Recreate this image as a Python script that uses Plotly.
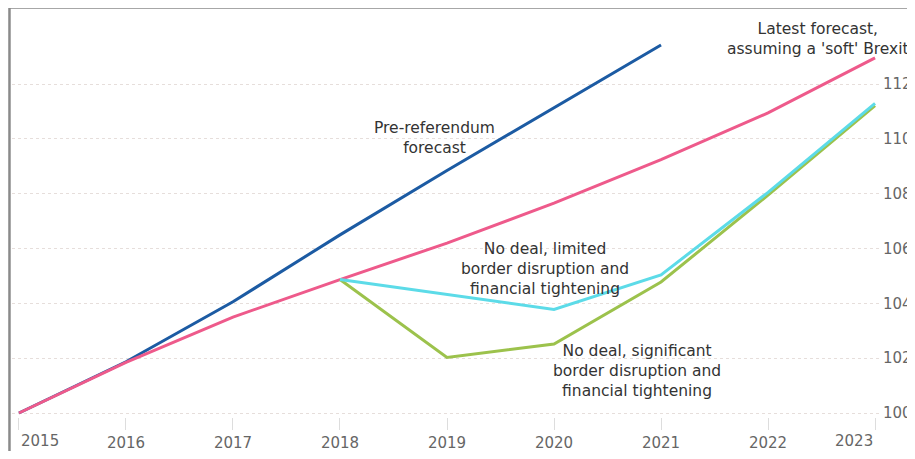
import plotly.graph_objects as go

years = [2015, 2016, 2017, 2018, 2019, 2020, 2021, 2022, 2023]
year_labels = ["2015", "2016", "2017", "2018", "2019", "2020", "2021", "2022", "2023"]

pre_ref_years = [2015, 2016, 2017, 2018, 2019, 2020, 2021]
pre_ref = [100.0, 101.87, 104.06, 106.5, 108.85, 111.15, 113.43]

latest = [100.0, 101.85, 103.5, 104.87, 106.2, 107.66, 109.25, 110.95, 112.96]

nd_years = [2018, 2019, 2020, 2021, 2022, 2023]
nd_limited = [104.87, 104.33, 103.78, 105.04, 108.05, 111.3]
nd_significant = [104.87, 102.03, 102.52, 104.78, 107.95, 111.22]

y_ticks = [100, 102, 104, 106, 108, 110, 112]

labels = {
    "pre": "Pre-referendum<br>forecast",
    "latest": "Latest forecast,<br>assuming a 'soft' Brexit",
    "limited": "No deal, limited<br>border disruption and<br>financial tightening",
    "significant": "No deal, significant<br>border disruption and<br>financial tightening",
}

fig = go.Figure()
fig.add_trace(go.Scatter(x=pre_ref_years, y=pre_ref, mode="lines",
                         line=dict(color="#1c5ba3", width=3), cliponaxis=False))
fig.add_trace(go.Scatter(x=years, y=latest, mode="lines",
                         line=dict(color="#ee5a8b", width=3), cliponaxis=False))
fig.add_trace(go.Scatter(x=nd_years, y=nd_significant, mode="lines",
                         line=dict(color="#9cc24c", width=3), cliponaxis=False))
fig.add_trace(go.Scatter(x=nd_years, y=nd_limited, mode="lines",
                         line=dict(color="#5cdbe8", width=3), cliponaxis=False))

txt_font = dict(family="DejaVu Sans", size=15.5, color="#333333")
fig.add_annotation(x=2018.88, y=110.04, text=labels["pre"], showarrow=False, font=txt_font, align="center")
fig.add_annotation(x=2022.47, y=113.65, text=labels["latest"], showarrow=False, font=txt_font, align="center")
fig.add_annotation(x=2019.92, y=105.24, text=labels["limited"], showarrow=False, font=txt_font, align="center")
fig.add_annotation(x=2020.78, y=101.53, text=labels["significant"], showarrow=False, font=txt_font, align="center")

tick_font = dict(family="DejaVu Sans", size=15, color="#666666")
# edge year labels kept inside the frame (left / right aligned)
fig.add_annotation(x=years[0], xref="x", y=0, yref="paper", yanchor="middle", yshift=-24,
                   xanchor="left", text=year_labels[0], showarrow=False, font=tick_font)
fig.add_annotation(x=years[-1], xref="x", y=0, yref="paper", yanchor="middle", yshift=-24,
                   xanchor="right", text=year_labels[-1], showarrow=False, font=tick_font)

# frame lines (top and left)
fig.add_shape(type="line", xref="paper", yref="paper", x0=-0.0029, x1=1.2, y0=1.0012, y1=1.0012,
              line=dict(color="#8a8a8a", width=2.5))
fig.add_shape(type="line", xref="paper", yref="paper", x0=-0.0029, x1=-0.0029, y0=1.0012, y1=-0.2,
              line=dict(color="#8a8a8a", width=2.5))

mid_text = [""] + year_labels[1:-1] + [""]

fig.update_layout(
    width=907, height=443,
    margin=dict(l=4, r=33, t=0, b=34),
    plot_bgcolor="white", paper_bgcolor="white",
    showlegend=False,
    xaxis=dict(range=[2014.935, 2023.065], tickvals=years, ticktext=mid_text,
               showgrid=False, zeroline=False, showline=False,
               ticks="outside", ticklen=12, tickcolor="#dddddd", tickwidth=1,
               tickfont=tick_font),
    yaxis=dict(range=[99.854, 114.78], side="right", tickvals=y_ticks,
               showgrid=True, gridcolor="#e6dedb", griddash="dot", gridwidth=1,
               zeroline=False, showline=False, ticks="",
               tickfont=tick_font),
)

fig.write_html("out.html")
